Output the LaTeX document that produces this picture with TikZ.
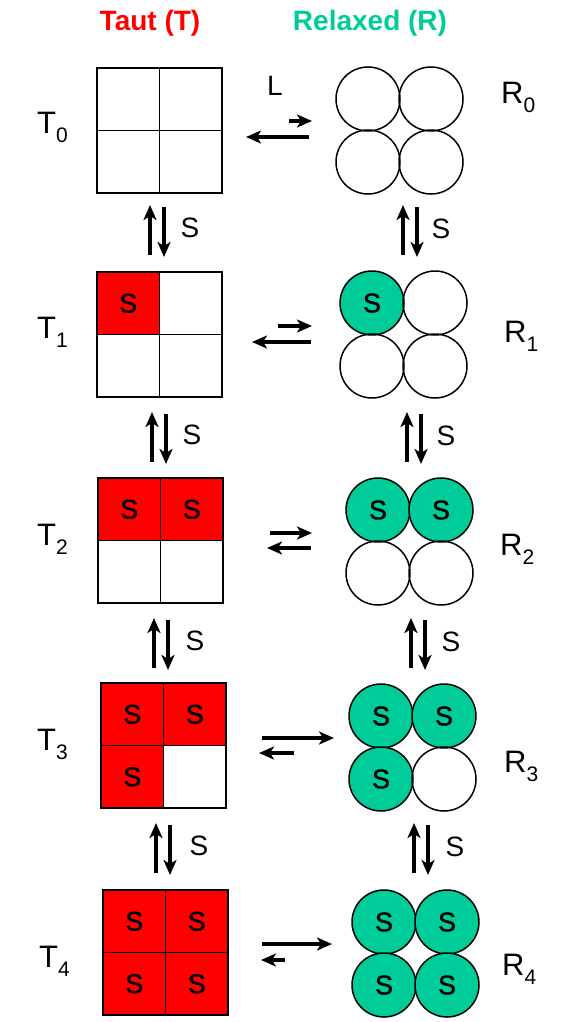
\documentclass[tikz,border=0pt]{standalone}
\usepackage{fontspec}
\setmainfont{Liberation Sans}
\newfontfamily\cellfont[FakeBold=1.2]{Liberation Sans}
\usetikzlibrary{arrows.meta}
\definecolor{tautred}{RGB}{255,0,0}
\definecolor{relgreen}{RGB}{0,204,153}
\newcommand{\subs}[1]{\raisebox{-9pt}{\fontsize{21}{21}\selectfont #1}}
\tikzset{
  cellbox/.style={draw=black, line width=1.8pt, minimum size=62.5pt, inner sep=0pt,
    font=\cellfont\fontsize{27}{27}\selectfont},
  fcell/.style={cellbox, fill=tautred},
  ball/.style={circle, draw=black, line width=1.5pt, minimum size=64pt, inner sep=0pt,
    font=\cellfont\fontsize{27}{27}\selectfont},
  fball/.style={ball, fill=relgreen},
  statelabel/.style={anchor=base west, inner sep=0pt, font=\fontsize{31}{31}\selectfont},
  slabel/.style={inner sep=0pt, font=\fontsize{28}{28}\selectfont},
  head/.style={inner sep=0pt, font=\fontsize{28}{28}\selectfont\bfseries},
  eqarrow/.style={line width=3.5pt, -{Stealth[length=15pt,width=13pt,inset=4pt]}},
}
\begin{document}
\begin{tikzpicture}[x=1pt,y=-1pt]
\useasboundingbox (0,0) rectangle (560,1022);
% headers
\node[head, text=tautred] (hT) at (150,23) {Taut (T)};
\node[head, text=relgreen] (hR) at (370,23) {Relaxed (R)};

% T grids
\node[cellbox] (T0a) at (128.25,99.25) {};
\node[cellbox] (T0b) at (190.75,99.25) {};
\node[cellbox] (T0c) at (128.25,161.75) {};
\node[cellbox] (T0d) at (190.75,161.75) {};

\node[fcell] (T1a) at (128.25,303.25) {S};
\node[cellbox] (T1b) at (190.75,303.25) {};
\node[cellbox] (T1c) at (128.25,365.75) {};
\node[cellbox] (T1d) at (190.75,365.75) {};

\node[fcell] (T2a) at (129.25,509.25) {S};
\node[fcell] (T2b) at (191.75,509.25) {S};
\node[cellbox] (T2c) at (129.25,571.75) {};
\node[cellbox] (T2d) at (191.75,571.75) {};

\node[fcell] (T3a) at (132.25,714.25) {S};
\node[fcell] (T3b) at (194.75,714.25) {S};
\node[fcell] (T3c) at (132.25,776.75) {S};
\node[cellbox] (T3d) at (194.75,776.75) {};

\node[fcell] (T4a) at (134.25,921.25) {S};
\node[fcell] (T4b) at (196.75,921.25) {S};
\node[fcell] (T4c) at (134.25,983.75) {S};
\node[fcell] (T4d) at (196.75,983.75) {S};

% R circles
\node[ball] (R0a) at (368,99) {};
\node[ball] (R0b) at (431,99) {};
\node[ball] (R0c) at (368,162) {};
\node[ball] (R0d) at (431,162) {};

\node[fball] (R1a) at (372,303) {S};
\node[ball] (R1b) at (435,303) {};
\node[ball] (R1c) at (372,366) {};
\node[ball] (R1d) at (435,366) {};

\node[fball] (R2a) at (378,510) {S};
\node[fball] (R2b) at (441,510) {S};
\node[ball] (R2c) at (378,573) {};
\node[ball] (R2d) at (441,573) {};

\node[fball] (R3a) at (381,716) {S};
\node[fball] (R3b) at (444,716) {S};
\node[fball] (R3c) at (381,779) {S};
\node[ball] (R3d) at (444,779) {};

\node[fball] (R4a) at (384,922) {S};
\node[fball] (R4b) at (447,922) {S};
\node[fball] (R4c) at (384,985) {S};
\node[fball] (R4d) at (447,985) {S};

% state labels
\node[statelabel] (lT0) at (37,134) {T\subs{0}};
\node[statelabel] (lT1) at (37,338) {T\subs{1}};
\node[statelabel] (lT2) at (37,545) {T\subs{2}};
\node[statelabel] (lT3) at (37,750) {T\subs{3}};
\node[statelabel] (lT4) at (39,967) {T\subs{4}};
\node[statelabel] (lR0) at (501,104) {R\subs{0}};
\node[statelabel] (lR1) at (504,342) {R\subs{1}};
\node[statelabel] (lR2) at (500,555) {R\subs{2}};
\node[statelabel] (lR3) at (504,772) {R\subs{3}};
\node[statelabel] (lR4) at (502,975) {R\subs{4}};

% L label
\node[slabel] (L) at (275,86) {L};

% horizontal equilibria (T <-> R)
\coordinate (h0a) at (289,121); \coordinate (h0b) at (312,121);
\coordinate (h0c) at (309,137); \coordinate (h0d) at (246,137);
\coordinate (h1a) at (278,326); \coordinate (h1b) at (312,326);
\coordinate (h1c) at (311,342); \coordinate (h1d) at (252,342);
\coordinate (h2a) at (270,533); \coordinate (h2b) at (312,533);
\coordinate (h2c) at (311,548); \coordinate (h2d) at (267,548);
\coordinate (h3a) at (262,738); \coordinate (h3b) at (334,738);
\coordinate (h3c) at (294,753); \coordinate (h3d) at (259,753);
\coordinate (h4a) at (262,944); \coordinate (h4b) at (332,944);
\coordinate (h4c) at (285,960); \coordinate (h4d) at (261,960);
\foreach \i in {0,...,4}{
  \draw[eqarrow] (h\i a) -- (h\i b);
  \draw[eqarrow] (h\i c) -- (h\i d);
}

% vertical equilibria (S binding)
\foreach \k/\tx/\rx/\ya/\tsx/\rsx in {0/150/403/205/190/441, 1/152/407/412/192/446, 2/154/411/618/195/451, 3/156/414/823/199/455}{
  \coordinate (tu\k a) at (\tx,\ya+50);
  \coordinate (tu\k b) at (\tx,\ya);
  \coordinate (td\k a) at (\tx+14,\ya+2);
  \coordinate (td\k b) at (\tx+14,\ya+52);
  \draw[eqarrow] (tu\k a) -- (tu\k b);
  \draw[eqarrow] (td\k a) -- (td\k b);
  \node[slabel] (tS\k) at (\tsx,\ya+23) {S};
  \coordinate (ru\k a) at (\rx,\ya+50);
  \coordinate (ru\k b) at (\rx,\ya);
  \coordinate (rd\k a) at (\rx+14,\ya+2);
  \coordinate (rd\k b) at (\rx+14,\ya+52);
  \draw[eqarrow] (ru\k a) -- (ru\k b);
  \draw[eqarrow] (rd\k a) -- (rd\k b);
  \node[slabel] (rS\k) at (\rsx,\ya+24) {S};
}
\end{tikzpicture}
\end{document}
